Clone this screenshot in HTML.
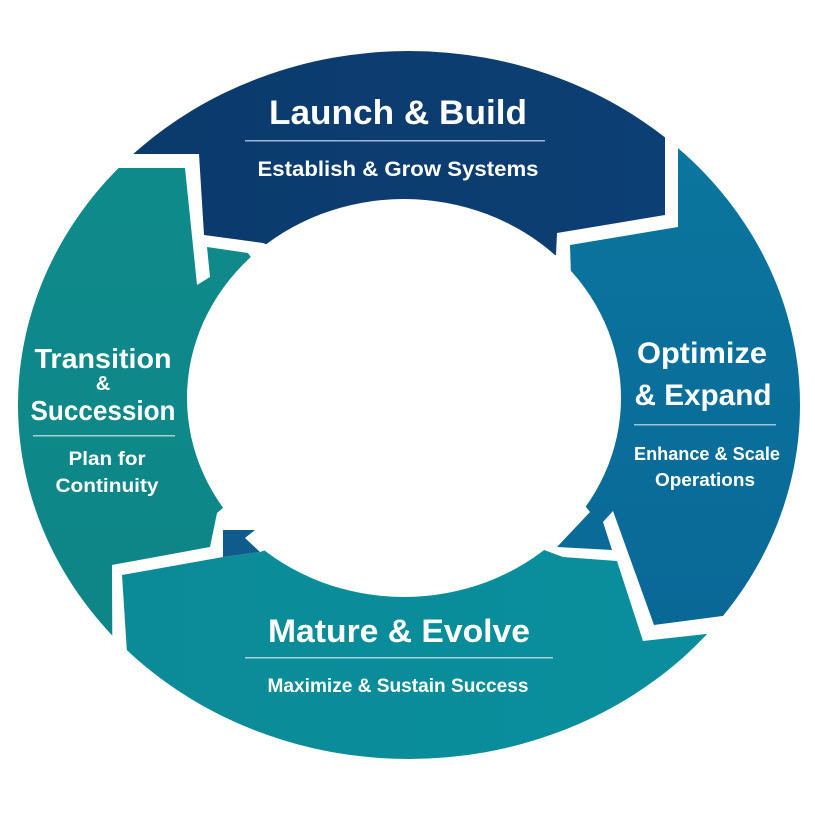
<!DOCTYPE html>
<html><head><meta charset="utf-8"><style>
html,body{margin:0;padding:0;background:#fff;width:815px;height:815px;overflow:hidden}
svg{display:block}
text{font-family:"Liberation Sans",sans-serif;fill:#fff;text-anchor:middle}
.t{font-weight:bold}
.s{font-weight:bold}
</style></head><body>
<svg width="815" height="815" viewBox="0 0 815 815" xmlns="http://www.w3.org/2000/svg">
<defs>
<clipPath id="outer"><ellipse cx="409" cy="405" rx="391" ry="354"/></clipPath>
<linearGradient id="gL" x1="0" y1="0" x2="1" y2="0"><stop offset="0" stop-color="#0b3a6c"/><stop offset="1" stop-color="#0c3f74"/></linearGradient>
<linearGradient id="gO" x1="0" y1="0" x2="0" y2="1"><stop offset="0" stop-color="#0b7aa0"/><stop offset="1" stop-color="#0a6897"/></linearGradient>
<linearGradient id="gM" x1="0" y1="0" x2="1" y2="0"><stop offset="0" stop-color="#0b8b97"/><stop offset="1" stop-color="#0a8f9f"/></linearGradient>
<linearGradient id="gT" x1="0" y1="0" x2="0" y2="1"><stop offset="0" stop-color="#0f8a8b"/><stop offset="1" stop-color="#0d8486"/></linearGradient>
</defs>
<g clip-path="url(#outer)">
<polygon fill="url(#gL)" points="100,0 100,154 199,154 204,235 263,243 410,300 556,255 557,233 665,215 665,0"/>
<polygon fill="url(#gO)" points="678,0 815,0 815,612 730,615 654,625 613,511 603,522 612,550 557,547 590,512 582,502 500,400 571,277 570,245 678,227"/>
<polygon fill="url(#gM)" points="127,815 127,653 122,575 223,557 260,552 409,500 563,557 617,561 643,641 715,633 815,620 815,815"/>
<polygon fill="url(#gT)" points="0,168 185,168 197,285 210,277 207,247 248,253 350,400 217,513 210,547 112,565 113,815 0,815"/>
</g>
<ellipse cx="404" cy="398" rx="217" ry="199" fill="#fff"/>
<polygon fill="#0e5b8c" points="223,530 255,530 245,538 260,552 223,557"/>

<text class="t" x="398" y="124" font-size="34" textLength="258" lengthAdjust="spacingAndGlyphs">Launch &amp; Build</text>
<rect x="245" y="140" width="300" height="1.5" fill="#9fb6d2"/>
<text class="s" x="398" y="176" font-size="21" font-weight="normal" textLength="281" lengthAdjust="spacingAndGlyphs">Establish &amp; Grow Systems</text>

<text class="t" x="702" y="363" font-size="30" textLength="130" lengthAdjust="spacingAndGlyphs">Optimize</text>
<text class="t" x="703" y="405" font-size="30" textLength="137" lengthAdjust="spacingAndGlyphs">&amp; Expand</text>
<rect x="634" y="424" width="142" height="1.5" fill="#9fc4d6"/>
<text class="s" x="707" y="460" font-size="18" textLength="146" lengthAdjust="spacingAndGlyphs">Enhance &amp; Scale</text>
<text class="s" x="705" y="486" font-size="18" textLength="100" lengthAdjust="spacingAndGlyphs">Operations</text>

<text class="t" x="103" y="368" font-size="28" textLength="137" lengthAdjust="spacingAndGlyphs">Transition</text>
<text class="t" x="103" y="390" font-size="20">&amp;</text>
<text class="t" x="103" y="420" font-size="28" textLength="145" lengthAdjust="spacingAndGlyphs">Succession</text>
<rect x="33" y="435" width="142" height="1.5" fill="#a6d0d0"/>
<text class="s" x="107" y="465" font-size="19" textLength="77" lengthAdjust="spacingAndGlyphs">Plan for</text>
<text class="s" x="107" y="492" font-size="19" textLength="103" lengthAdjust="spacingAndGlyphs">Continuity</text>

<text class="t" x="399" y="642" font-size="32" textLength="262" lengthAdjust="spacingAndGlyphs">Mature &amp; Evolve</text>
<rect x="245" y="657" width="308" height="1.5" fill="#a6d4da"/>
<text class="s" x="398" y="692" font-size="19" textLength="261" lengthAdjust="spacingAndGlyphs">Maximize &amp; Sustain Success</text>
</svg>
</body></html>
